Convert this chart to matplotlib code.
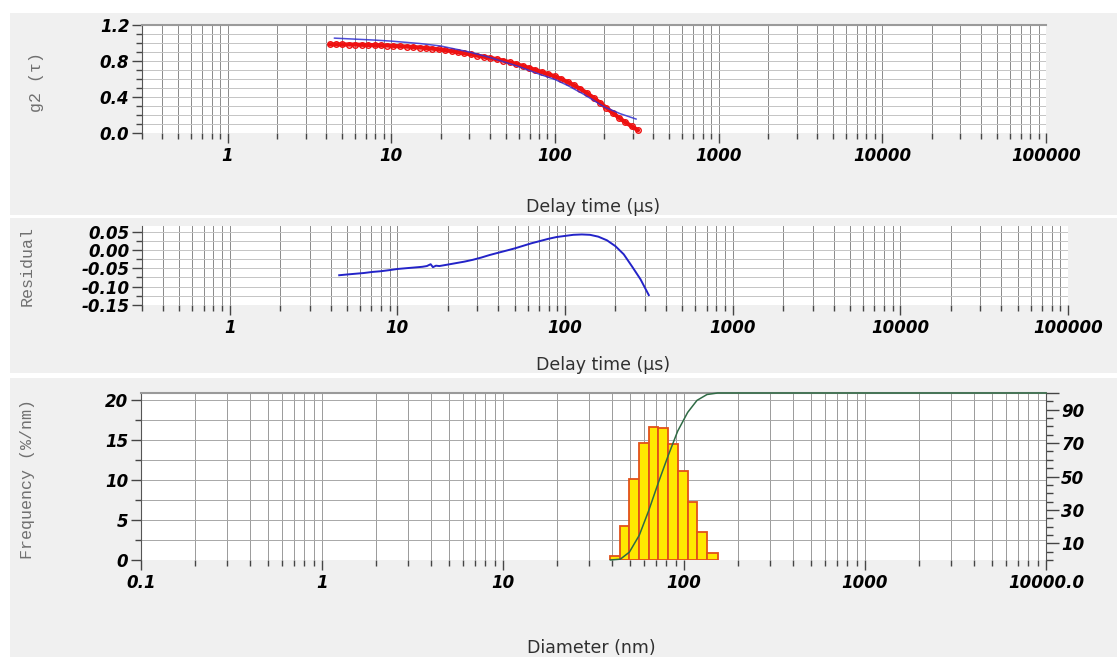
import numpy as np
import matplotlib
matplotlib.use('Agg')
import matplotlib.pyplot as plt
from matplotlib.patches import Rectangle
from matplotlib.ticker import LogLocator, MultipleLocator, FormatStrFormatter, NullFormatter

# correlation function, measured (delay time in us)
tau_meas = [4.2, 4.6, 5.0, 5.5, 6.0, 6.6, 7.2, 7.9, 8.6, 9.4, 10.3, 11.3, 12.4, 13.6,
            14.9, 16.3, 17.8, 19.5, 21.4, 23.4, 25.6, 28.0, 30.7, 33.6, 36.8, 40.3,
            44.1, 48.3, 52.9, 57.9, 63.4, 69.4, 76.0, 83.2, 91.1, 99.8, 109, 120, 131,
            143, 157, 172, 188, 206, 225, 246, 269, 294, 322]
g2_meas = [0.985, 0.985, 0.984, 0.983, 0.982, 0.980, 0.978, 0.976, 0.974, 0.972, 0.968,
           0.964, 0.960, 0.955, 0.950, 0.944, 0.937, 0.929, 0.920, 0.910, 0.898, 0.886,
           0.873, 0.859, 0.847, 0.834, 0.820, 0.804, 0.786, 0.766, 0.745, 0.723, 0.700,
           0.677, 0.653, 0.630, 0.600, 0.565, 0.530, 0.490, 0.443, 0.392, 0.338, 0.280,
           0.225, 0.170, 0.120, 0.075, 0.030]

# fitted correlation function
tau_fit = [4.5, 6, 8, 10, 15, 20, 30, 40, 60, 80, 100, 120, 150, 200, 250, 280, 313]
g2_fit = [1.054, 1.043, 1.032, 1.021, 0.994, 0.967, 0.900, 0.840, 0.739, 0.655, 0.595,
          0.527, 0.430, 0.290, 0.215, 0.185, 0.155]

# fit residual
tau_res = [4.5, 5.0, 5.6, 6.3, 7.1, 8.0, 9.0, 10, 11.2, 12.6, 14.1, 15.0, 15.8, 16.3,
           17.0, 17.8, 20, 22.4, 25.1, 28.2, 31.6, 35.5, 39.8, 44.7, 50.1, 56.2, 63.1,
           70.8, 79.4, 89.1, 100, 112, 126, 141, 158, 178, 200, 224, 251, 282, 316]
residual = [-0.069, -0.067, -0.065, -0.063, -0.060, -0.058, -0.055, -0.052, -0.050,
            -0.048, -0.046, -0.044, -0.039, -0.047, -0.043, -0.044, -0.040, -0.036,
            -0.032, -0.027, -0.021, -0.014, -0.008, -0.002, 0.004, 0.011, 0.018, 0.024,
            0.030, 0.035, 0.038, 0.041, 0.042, 0.041, 0.036, 0.026, 0.010, -0.012,
            -0.045, -0.080, -0.123]

# size distribution (nm)
bin_edges = [39.2, 44.5, 49.9, 56.6, 63.8, 72.1, 81.9, 92.3, 104.8, 118.0, 134.0, 153.5]
freq = [0.5, 4.2, 10.1, 14.7, 16.7, 16.5, 14.5, 11.2, 7.2, 3.5, 0.9]
d_max = 10000.0

W, H = 1117, 657
plt.rcParams['font.family'] = 'DejaVu Sans'
plt.rcParams['font.weight'] = 'bold'
plt.rcParams['font.style'] = 'oblique'
plt.rcParams['axes.unicode_minus'] = False

fig = plt.figure(figsize=(W / 100, H / 100), dpi=100, facecolor='white')

panel_bg = '#f0f0f0'
for y0, y1 in [(13, 215), (218, 373), (378, 657)]:
    fig.add_artist(Rectangle((10 / W, 1 - y1 / H), 1 - 10 / W, (y1 - y0) / H,
                             transform=fig.transFigure, facecolor=panel_bg,
                             edgecolor='none', zorder=-10))


def box(l, r, t, b):
    return [l / W, 1 - b / H, (r - l) / W, (b - t) / H]


def style_axis(ax, xmin, xmax, xticks, xlabels):
    ax.set_facecolor('white')
    ax.set_xscale('log')
    ax.set_xlim(xmin, xmax)
    ax.set_xticks(xticks, labels=xlabels)
    ax.xaxis.set_minor_locator(LogLocator(base=10, subs=np.arange(2, 10), numticks=30))
    ax.xaxis.set_minor_formatter(NullFormatter())
    ax.grid(which='both', axis='x', color='#8a8a8a', lw=0.7)
    ax.grid(which='both', axis='y', color='#c4c4c4', lw=0.7)
    ax.set_axisbelow(True)
    for s in ['right', 'bottom']:
        ax.spines[s].set_visible(False)
    ax.spines['top'].set_color('#9a9a9a')
    ax.spines['top'].set_linewidth(1.5)
    ax.spines['left'].set_color('#555555')
    ax.tick_params(which='major', direction='out', length=7, width=1, color='#444444',
                   labelsize=12, pad=2)
    ax.tick_params(which='minor', direction='out', length=4, width=1, color='#444444')
    ax.tick_params(axis='x', which='major', pad=3)


def side_label(x, y, text, rot=0, mono=False, size=12.5):
    if mono:
        fig.text(x / W, 1 - y / H, text, rotation=rot, ha='center', va='center',
                 family=['Liberation Mono', 'DejaVu Sans Mono'], fontsize=12,
                 weight='normal', style='normal', color='#707070')
    else:
        fig.text(x / W, 1 - y / H, text, rotation=rot, ha='center', va='center',
                 fontsize=size, weight='normal', style='normal', color='#303030')


# g2 panel
ax1 = fig.add_axes(box(142, 1046, 25, 133))
style_axis(ax1, 0.3, 1e5, [1, 10, 100, 1000, 10000, 100000],
           ['1', '10', '100', '1000', '10000', '100000'])
ax1.set_ylim(0, 1.2)
ax1.yaxis.set_major_locator(MultipleLocator(0.4))
ax1.yaxis.set_minor_locator(MultipleLocator(0.1))
ax1.yaxis.set_major_formatter(FormatStrFormatter('%.1f'))
ax1.plot(tau_meas, g2_meas, color='#ee1111', lw=3, solid_capstyle='round', zorder=3)
ax1.plot(tau_meas, g2_meas, 'o', ms=4, mfc='none', mec='#ee1111', mew=1.0, zorder=3)
ax1.plot(tau_fit, g2_fit, color='#3030d0', lw=1.1, alpha=0.85, zorder=4)
side_label(37, 82, 'g2 (τ)', rot=90, mono=True)
side_label(593, 207, 'Delay time (µs)')

# residual panel
ax2 = fig.add_axes(box(142, 1068, 226, 305))
style_axis(ax2, 0.3, 1e5, [1, 10, 100, 1000, 10000, 100000],
           ['1', '10', '100', '1000', '10000', '100000'])
ax2.set_ylim(-0.15, 0.065)
ax2.spines['top'].set_visible(False)
ax2.yaxis.set_major_locator(MultipleLocator(0.05))
ax2.yaxis.set_minor_locator(MultipleLocator(0.025))
ax2.yaxis.set_major_formatter(FormatStrFormatter('%.2f'))
ax2.plot(tau_res, residual, color='#2323c8', lw=1.4, zorder=3)
side_label(27, 266, 'Residual', rot=90, mono=True)
side_label(603, 365, 'Delay time (µs)')

# size distribution panel
ax3 = fig.add_axes(box(141, 1046, 393, 560))
style_axis(ax3, 0.1, d_max, [0.1, 1, 10, 100, 1000, 10000],
           ['0.1', '1', '10', '100', '1000', '10000.0'])
ax3.grid(which='both', axis='x', color='#9a9a9a', lw=0.7)
ax3.grid(which='both', axis='y', color='#a8a8a8', lw=0.7)
ax3.set_ylim(0, 20.9)
ax3.yaxis.set_major_locator(MultipleLocator(5))
ax3.yaxis.set_minor_locator(MultipleLocator(2.5))
ax3.bar(bin_edges[:-1], freq, width=np.diff(bin_edges), align='edge',
        color='#ffe800', edgecolor='#e2501a', lw=1.3, zorder=3)

ax3r = ax3.twinx()
ax3r.set_ylim(0, 100)
for s in ['left', 'top', 'bottom']:
    ax3r.spines[s].set_visible(False)
ax3r.spines['right'].set_color('#555555')
ax3r.set_yticks([10, 30, 50, 70, 90, 100], labels=['10', '30', '50', '70', '90', ''])
ax3r.yaxis.set_minor_locator(MultipleLocator(5))
ax3r.tick_params(which='major', direction='out', length=9, width=1, color='#444444',
                 labelsize=12, pad=2)
ax3r.tick_params(which='minor', direction='out', length=5, width=1, color='#444444')
cum_x = list(bin_edges) + [d_max]
cum_y = [0.0] + list(np.cumsum(freq)) + [100.0]
ax3r.plot(cum_x, cum_y, color='#2f6b45', lw=1.1, zorder=4, clip_on=False)

side_label(28, 479, 'Frequency (%/nm)', rot=90, mono=True)
side_label(591, 648, 'Diameter (nm)')

fig.savefig('out.png', dpi=100, facecolor='white')
